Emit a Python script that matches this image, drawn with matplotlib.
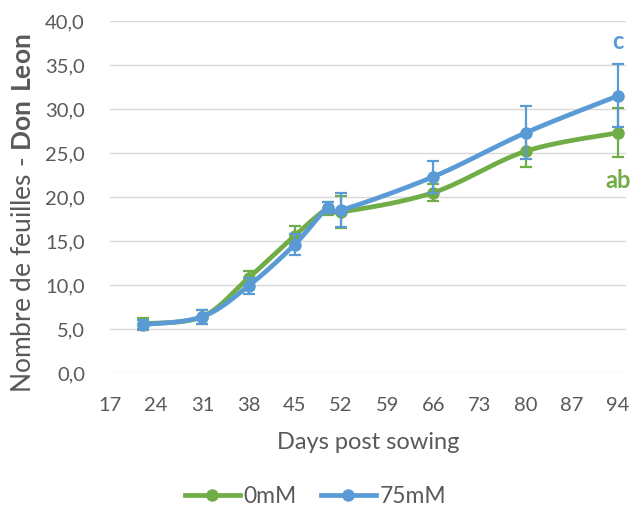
import numpy as np
import matplotlib
matplotlib.use("Agg")
import matplotlib.pyplot as plt
from matplotlib.lines import Line2D

plt.rcParams['font.family'] = ['Lato', 'DejaVu Sans']
plt.rcParams['mathtext.fontset'] = 'custom'
plt.rcParams['mathtext.rm'] = 'Lato'
plt.rcParams['mathtext.bf'] = 'Lato:bold'

# Leaf counts per sampling day
days = [22, 31, 38, 45, 50, 52, 66, 80, 94]
ctrl_0mM = [5.6, 6.4, 10.8, 15.6, 18.7, 18.3, 20.5, 25.2, 27.3]
ctrl_0mM_err = [0.7, 0.8, 0.8, 1.1, 0.7, 1.8, 1.0, 1.8, 2.8]
salt_75mM = [5.5, 6.4, 9.9, 14.6, 18.8, 18.5, 22.3, 27.3, 31.5]
salt_75mM_err = [0.5, 0.8, 0.9, 1.2, 0.6, 1.9, 1.8, 3.0, 3.6]

series_names = ['0mM', '75mM']
group_letters = ['ab', 'c']
x_ticks = [17, 24, 31, 38, 45, 52, 59, 66, 73, 80, 87, 94]
y_ticks = [0, 5, 10, 15, 20, 25, 30, 35, 40]

GREEN = '#70AD47'
BLUE = '#5B9BD5'
TEXT = '#595959'


def smooth(x, y, n=30):
    """Catmull-Rom style Bezier smoothing through all points."""
    p = np.column_stack([x, y]).astype(float)
    pts = np.vstack([p[0], p, p[-1]])
    out = []
    t = np.linspace(0, 1, n)[:, None]
    for i in range(1, len(pts) - 2):
        p0, p1, p2, p3 = pts[i - 1], pts[i], pts[i + 1], pts[i + 2]
        c1 = p1 + (p2 - p0) / 6.0
        c2 = p2 - (p3 - p1) / 6.0
        seg = ((1 - t) ** 3) * p1 + 3 * ((1 - t) ** 2) * t * c1 + 3 * (1 - t) * t ** 2 * c2 + t ** 3 * p2
        out.append(seg if i == 1 else seg[1:])
    s = np.vstack(out)
    return s[:, 0], s[:, 1]


fig = plt.figure(figsize=(6.35, 5.07), dpi=100)
ax = fig.add_axes([0.1732, 0.2643, 0.9858 - 0.1732, 0.9586 - 0.2643])

for vals, errs, col, z in [(ctrl_0mM, ctrl_0mM_err, GREEN, 3), (salt_75mM, salt_75mM_err, BLUE, 5)]:
    sx, sy = smooth(days, vals)
    ax.plot(sx, sy, color=col, lw=3.4, solid_capstyle='round', zorder=z)
    ax.errorbar(days, vals, yerr=errs, fmt='none', ecolor=col, elinewidth=1.6,
                capsize=4, capthick=1.6, zorder=z + 0.5)
    ax.plot(days, vals, 'o', color=col, ms=8, zorder=z + 0.6)

ax.text(94, 37.7, group_letters[1], color=BLUE, fontsize=17, fontweight='bold',
        ha='center', va='center')
ax.text(94, 21.9, group_letters[0], color=GREEN, fontsize=17, fontweight='bold',
        ha='center', va='center')

ax.set_xlim(17, 95.2)
ax.set_ylim(0, 40)
ax.set_xticks(x_ticks)
ax.set_yticks(y_ticks)
ax.set_yticklabels([f'{v:.1f}'.replace('.', ',') for v in y_ticks])
ax.tick_params(axis='both', length=0, labelsize=14.5, colors=TEXT)
ax.tick_params(axis='y', pad=18)
ax.tick_params(axis='x', pad=17)
ax.grid(axis='y', color='#D9D9D9', lw=1.0)
ax.set_axisbelow(True)
for s in ax.spines.values():
    s.set_visible(False)

ax.set_xlabel('Days post sowing', fontsize=17, color=TEXT)
ax.xaxis.set_label_coords(0.5, -0.168)
ax.set_ylabel(r'Nombre de feuilles - $\mathbf{Don\ Leon}$', fontsize=19,
              color=TEXT)
ax.yaxis.set_label_coords(-0.143, 0.455)

handles = [Line2D([], [], color=c, lw=3.4, marker='o', ms=8) for c in (GREEN, BLUE)]
fig.legend(handles, series_names, loc='center', bbox_to_anchor=(0.497, 0.02),
           ncol=2, frameon=False, fontsize=16.5, labelcolor=TEXT,
           handlelength=2.4, handletextpad=0.17, columnspacing=1.05)

fig.savefig('out.png', dpi=100)
